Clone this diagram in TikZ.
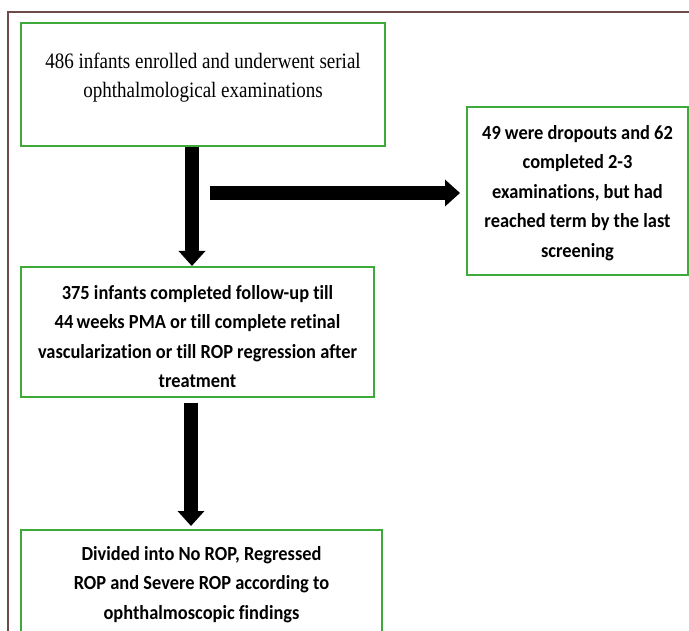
\documentclass[tikz,border=0pt]{standalone}
\usepackage{fontspec}
\setmainfont[FakeStretch=0.92,RawFeature={-liga}]{Carlito}
\newfontfamily\serifface[FakeStretch=0.865]{Liberation Serif}
\usetikzlibrary{arrows.meta}
\definecolor{boxgreen}{HTML}{3DAA3A}
\definecolor{framebrown}{HTML}{6E4A4A}
\newcommand\boxtext[4]{\parbox[c][#1][t]{#2}{\centering\vspace*{#3}#4\par}}
\tikzset{
  flowbox/.style={draw=boxgreen, line width=2pt, fill=white, inner sep=0pt, font=\bfseries\fontsize{20}{29.6}\selectfont},
  fatarrow/.style={line width=14pt, -{Triangle[width=26pt,length=15pt]}},
}
\begin{document}
\begin{tikzpicture}[x=1pt,y=-1pt]
\useasboundingbox (0,0) rectangle (689,631);
\clip (0,0) rectangle (689,631);
\draw[framebrown, line width=1.5pt] (8,640) -- (8,12) -- (700,12);
\node[flowbox, font=\serifface\fontsize{22}{29}\selectfont] (b1) at (203,84.5)
  {\boxtext{123pt}{364pt}{30pt}{486 infants enrolled and underwent serial\\ophthalmological examinations}};
\node[flowbox] (b2) at (577.5,191)
  {\boxtext{168pt}{221pt}{18pt}{49 were dropouts and 62\\completed 2-3\\examinations, but had\\reached term by the last\\screening}};
\node[flowbox] (b3) at (197.5,332)
  {\boxtext{130pt}{353pt}{18pt}{375 infants completed follow-up till\\44\,weeks PMA or till complete retinal\\vascularization or till ROP regression after\\treatment}};
\node[flowbox, anchor=north] (b4) at (201.5,529)
  {\boxtext{130pt}{361pt}{16pt}{Divided into No ROP, Regressed\\ROP and Severe ROP according to\\ophthalmoscopic findings}};
\coordinate (a1) at (192,0);
\coordinate (a2) at (191,0);
\coordinate (hstart) at (210,193);
\draw[fatarrow] (b1.south -| a1) -- (b3.north -| a1);
\draw[fatarrow, shorten >=6pt] (hstart) -- (hstart -| b2.west);
\draw[fatarrow, shorten <=5pt, shorten >=3pt] (b3.south -| a2) -- (b4.north -| a2);
\end{tikzpicture}
\end{document}
